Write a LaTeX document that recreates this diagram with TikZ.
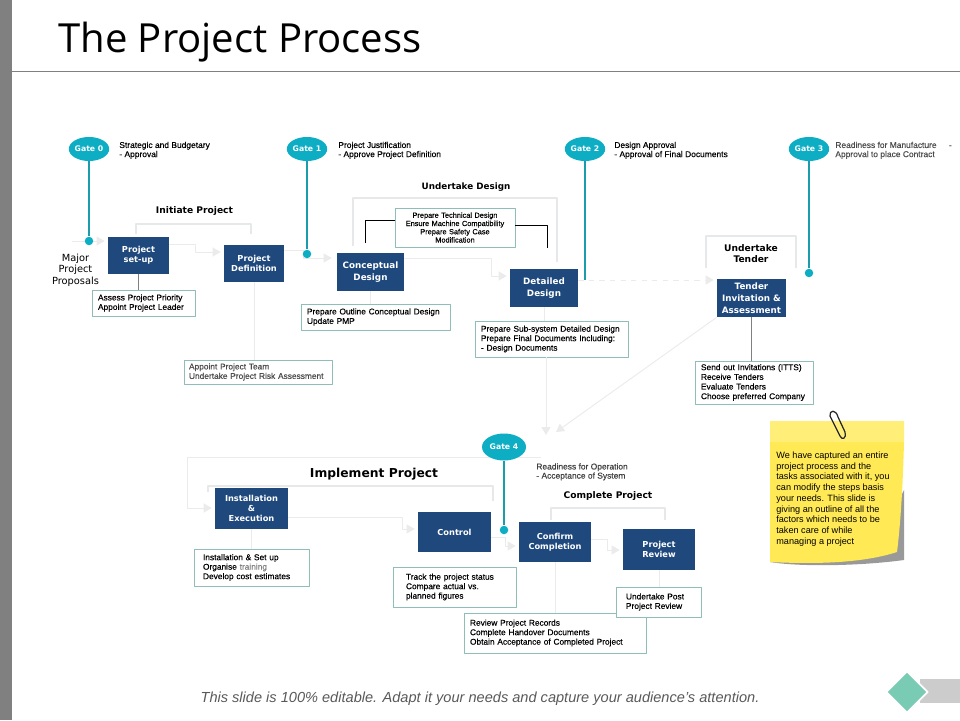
\documentclass[tikz,border=0pt]{standalone}
\usepackage{fontspec}
\setmainfont{Liberation Sans}
\newfontfamily\boxfont{DejaVu Sans}
\newfontfamily\titlefont{Open Sans}
\newfontfamily\notefont[FakeBold=0.3]{Liberation Sans}
\usetikzlibrary{arrows.meta,shapes.geometric}
\def\px{0.02cm}
\def\sz#1#2{\fontsize{#1}{#2}\selectfont}
\definecolor{navy}{HTML}{1F497D}
\definecolor{tealgate}{HTML}{0DADC4}
\definecolor{tealline}{HTML}{1B9CAD}
\definecolor{noteline}{HTML}{8FBDB8}
\definecolor{lightline}{HTML}{E6E8EA}
\definecolor{flowline}{HTML}{EBEBEB}
\definecolor{stickybody}{HTML}{FFE955}
\definecolor{stickyband}{HTML}{FFEE77}
\definecolor{markgreen}{HTML}{7ACBB4}
\tikzset{
	gate/.style={ellipse,fill=tealgate,inner sep=0,minimum width=40*\px,minimum height=24*\px,text=white,font=\boxfont\bfseries\sz{4.4}{5}},
	dot/.style={circle,fill=tealgate,inner sep=0,minimum size=8.5*\px},
	gateline/.style={draw=tealline,line width=0.65pt},
	stepbox/.style={fill=navy,text=white,align=center,inner sep=0,font=\boxfont\bfseries\sz{4.7}{5.9}},
	bigstep/.style={stepbox,font=\boxfont\bfseries\sz{5}{6.8}},
	note/.style={draw=noteline,line width=0.5pt,fill=white,align=left,inner ysep=0,inner xsep=6*\px,text=black,font=\notefont\sz{4.75}{5.4}},
	info/.style={anchor=north west,align=left,inner sep=0,font=\notefont\sz{4.8}{5.2}},
	heading/.style={align=center,inner sep=0,font=\boxfont\bfseries\sz{5.2}{6.5}},
	bracket/.style={draw=lightline,line width=1pt},
	flow/.style={draw=flowline,line width=0.55pt,-{Triangle[length=8*\px,width=9*\px]},shorten >=3*\px},
	stem/.style={draw=flowline,line width=0.55pt},
	darkstem/.style={draw=gray,line width=0.55pt},
}
\begin{document}
\begin{tikzpicture}[x=0.02cm,y=-0.02cm,line join=round]
	\useasboundingbox (0,0) rectangle (960,720);
	% slide frame
	\fill[gray] (0,0) rectangle (12,720);
	\draw[gray,line width=0.5pt] (12,71)--(960,71);
	\node[anchor=base west,inner sep=0,font=\titlefont\sz{22.8}{26}] (title) at (58,52) {The Project Process};
	% brackets
	\draw[bracket] (136,234)--(136,224)--(251,224)--(251,234);
	\draw[bracket] (353,246)--(353,198)--(557,198)--(557,262);
	\draw[bracket] (706,268)--(706,236)--(796,236)--(796,268);
	\draw[bracket] (208,492)--(208,486)--(493,486)--(493,501);
	\draw[bracket] (551,520)--(551,508)--(665,508)--(665,520);
	% flow
	\coordinate (start) at (72,241);
	\node[stepbox,minimum width=61*\px,minimum height=37*\px] (setup) at (138.5,255.5) {Project\\set-up};
	\node[stepbox,minimum width=60*\px,minimum height=37*\px] (definition) at (254,263.5) {Project\\Definition};
	\node[bigstep,minimum width=67*\px,minimum height=38*\px] (conceptual) at (370.5,272) {Conceptual\\Design};
	\node[bigstep,minimum width=68*\px,minimum height=38*\px] (detailed) at (544,288) {Detailed\\Design};
	\node[bigstep,minimum width=69*\px,minimum height=38*\px] (tender) at (751.5,298) {Tender\\Invitation \&\\Assessment};
	\node[stepbox,minimum width=73*\px,minimum height=41*\px] (install) at (251.5,508.5) {Installation\\\&\\Execution};
	\node[stepbox,minimum width=73*\px,minimum height=40*\px] (control) at (454.5,532) {Control};
	\node[stepbox,minimum width=72*\px,minimum height=40*\px] (confirm) at (555,542) {Confirm\\Completion};
	\node[stepbox,minimum width=72*\px,minimum height=41*\px] (review) at (659,549.5) {Project\\Review};
	% task notes
	\node[note,text width=91*\px,minimum height=26*\px] (assess) at (143.5,303) {Assess Project Priority\\Appoint Project Leader};
	\node[note,minimum height=24*\px,text=black!70,inner xsep=5*\px,text width=138*\px] (team) at (258,372) {Appoint Project Team\\Undertake Project Risk Assessment};
	\node[note,text width=137*\px,minimum height=26*\px] (outline) at (375.5,317) {Prepare Outline Conceptual Design\\Update PMP};
	\node[note,text width=120*\px,minimum height=39*\px,align=center,inner xsep=0,font=\notefont\sz{4.2}{4.7}] (technical) at (455,227.5) {Prepare Technical Design\\Ensure Machine Compatibility\\Prepare Safety Case\\Modification};
	\node[note,text width=141*\px,minimum height=36*\px] (subsystem) at (551.5,339) {Prepare Sub-system Detailed Design\\Prepare Final Documents Including:\\- Design Documents};
	\node[note,text width=106*\px,minimum height=43*\px,font=\notefont\sz{4.75}{5.5}] (invite) at (754,382.5) {Send out Invitations (ITTS)\\Receive Tenders\\Evaluate Tenders\\Choose preferred Company};
	\node[note,text width=97*\px,minimum height=37*\px,inner xsep=9*\px] (setupnote) at (251.5,567.5) {Installation \& Set up\\Organise \textcolor{gray}{training}\\Develop cost estimates};
	\node[note,text width=97*\px,minimum height=40*\px,inner xsep=13*\px] (track) at (454.5,587) {Track the project status\\Compare actual vs.\\planned figures};
	\node[note,text width=170*\px,minimum height=40*\px] (records) at (555,633) {Review Project Records\\Complete Handover Documents\\Obtain Acceptance of Completed Project};
	\node[note,text width=65*\px,minimum height=30*\px,inner xsep=10*\px] (postreview) at (658.5,602) {Undertake Post\\Project Review};
	% connectors
	\draw[flow] (start)--(setup.west |- 0,241);
	\draw[flow] (setup.east |- 0,244)--(195,244)--(195,252)--(definition.west |- 0,252);
	\draw[flow,shorten >=5*\px] (definition.east |- 0,250)--(303,250)--(303,258)--(conceptual.west |- 0,258);
	\draw[flow] (conceptual.east |- 0,258)--(491,258)--(491,276)--(detailed.west |- 0,276);
	\draw[flow,dashed] (detailed.east |- 0,280)--(tender.west |- 0,280);
	\draw[flow] (subsystem.south -| 546,0)--(546,438);
	\draw[flow,shorten >=0pt] (tender.south west)--(556,432);
	\draw[stem] (541,457)--(187,457)--(187,508);
	\draw[flow] (187,508)--(install.west |- 0,508);
	\draw[flow] (install.east |- 0,517)--(402,517)--(402,529)--(control.west |- 0,529);
	\draw[flow] (control.east |- 0,537)--(505,537)--(505,546)--(confirm.west |- 0,546);
	\draw[flow] (confirm.east |- 0,539)--(607,539)--(607,550)--(review.west |- 0,550);
	\draw[darkstem] (setup.south)--(setup.south |- assess.north);
	\draw[stem] (definition.south)--(definition.south |- team.north);
	\draw[stem] (conceptual.south)--(conceptual.south |- outline.north);
	\draw[stem] (detailed.south)--(detailed.south |- subsystem.north);
	\draw[darkstem] (tender.south)--(tender.south |- invite.north);
	\draw[stem] (install.south)--(install.south |- setupnote.north);
	\draw[stem] (confirm.south)--(confirm.south |- records.north);
	\draw[stem] (review.south)--(review.south |- postreview.north);
	\draw[black,line width=0.5pt] (technical.west |- 0,220)--(365,220)--(365,243);
	\draw[black,line width=0.5pt] (technical.east |- 0,225)--(547,225)--(547,248);
	% gates
	\node[gate] (gate0) at (89,149) {Gate 0};
	\node[gate] (gate1) at (307,149) {Gate 1};
	\node[gate] (gate2) at (585,149) {Gate 2};
	\node[gate] (gate3) at (809,149) {Gate 3};
	\node[gate,minimum width=44*\px,minimum height=27*\px] (gate4) at (504,447) {Gate 4};
	\coordinate (dot2) at (585,280);
	\foreach \n/\p in {0/{89,241},1/{307,254},3/{809,273},4/{504,530}}
		\node[dot] (dot\n) at (\p) {};
	\foreach \n in {0,1,2,3,4}
		\draw[gateline] (gate\n)--(dot\n);
	\node[info] (info0) at (119,141.5) {Strategic and Budgetary\\- Approval};
	\node[info] (info1) at (338,141.5) {Project Justification\\- Approve Project Definition};
	\node[info] (info2) at (614,141.5) {Design Approval\\- Approval of Final Documents};
	\node[info,text=black!70] (info3) at (835,141.5) {Readiness for Manufacture\hspace{7pt}-\\Approval to place Contract};
	\node[info,text=black!75] (info4) at (536,463) {Readiness for Operation\\- Acceptance of System};
	% headings
	\node[heading] (initiate) at (194.5,211.5) {Initiate Project};
	\node[heading,font=\boxfont\bfseries\sz{5}{6.5}] (design) at (466,187.5) {Undertake Design};
	\node[heading] (tenderhead) at (751,253.5) {Undertake\\Tender};
	\node[heading,font=\boxfont\bfseries\sz{7}{8}] (implement) at (374,474) {Implement Project};
	\node[heading] (complete) at (608,496.5) {Complete Project};
	\node[inner sep=0,align=center,font=\boxfont\sz{5.6}{6.5}] (major) at (75.5,270) {Major\\Project\\Proposals};
	% sticky note
	\fill[black!40] (770,562) .. controls (800,567) and (860,566) .. (904,560)--(904,490)--(880,540)--cycle;
	\fill[stickybody] (770,421)--(904,421)--(904,442) .. controls (903,480) and (901,520) .. (897,552) .. controls (860,564) and (810,564) .. (770,562)--cycle;
	\fill[stickyband] (770,421)--(904,421)--(904,442)--(770,442)--cycle;
	\node[anchor=north west,inner sep=0,align=left,font=\sz{5.2}{6.12}] (sticky) at (776,451.5) {We have captured an entire\\project process and the\\tasks associated with it, you\\can modify the steps basis\\your needs. This slide is\\giving an outline of all the\\factors which needs to be\\taken care of while\\managing a project};
	\draw[black!85,line width=0.7pt] (838,417)--(845,432) .. controls (847,438) and (842,441) .. (840,436)--(830,416) .. controls (829,410) and (836,409) .. (838,417);
	% footer
	\node[inner sep=0,text=black!65,font=\itshape\sz{8.3}{10}] (footer) at (480,698.5) {This slide is 100\% editable. Adapt it your needs and capture your audience’s attention.};
	\fill[black!20] (920,679) rectangle (960,703);
	\node[diamond,fill=markgreen,draw=white,line width=1pt,inner sep=0,minimum size=42*\px] (mark) at (907,692) {};
\end{tikzpicture}
\end{document}
